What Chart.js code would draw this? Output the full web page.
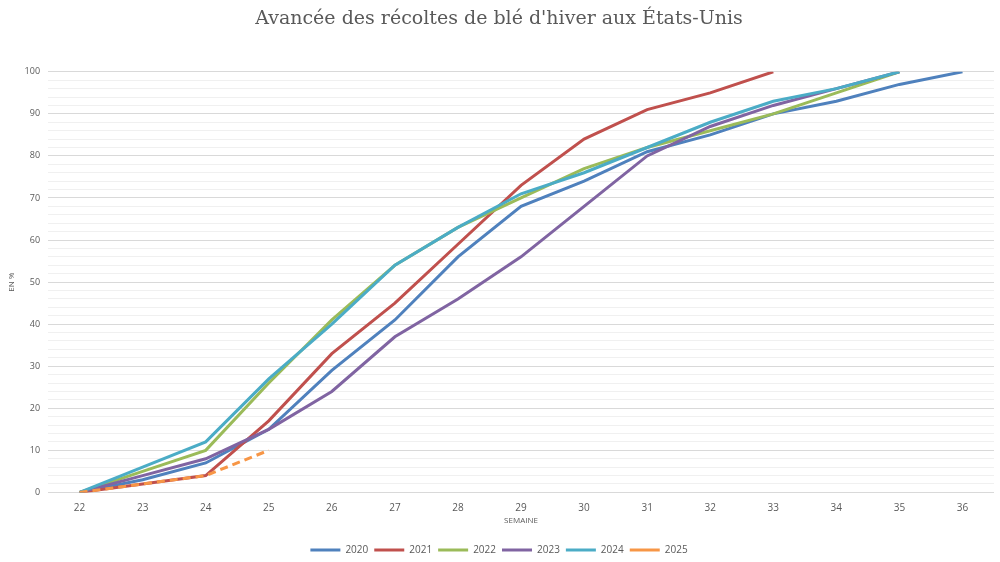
<!DOCTYPE html>
<html>
<head>
<meta charset="utf-8">
<title>Avancée des récoltes de blé d'hiver aux États-Unis</title>
<script src="https://cdn.jsdelivr.net/npm/chart.js@4.4.1/dist/chart.umd.min.js"></script>
<style>
  html, body { margin: 0; padding: 0; background: #fff; }
  #wrap { width: 1000px; height: 562px; }
</style>
</head>
<body>
<div id="wrap"><canvas id="harvestChart" width="1000" height="562"></canvas></div>
<script>
// Semaines (axe X)
const weeks = ['22', '23', '24', '25', '26', '27', '28', '29', '30', '31', '32', '33', '34', '35', '36'];

// Avancée des récoltes, en %
const y2020 = [0, 3, 7, 15, 29, 41, 56, 68, 74, 81, 85, 90, 93, 97, 100];
const y2021 = [0, 2, 4, 17, 33, 45, 59, 73, 84, 91, 95, 100];
const y2022 = [0, 5, 10, 26, 41, 54, 63, 70, 77, 82, 86, 90, 95, 100];
const y2023 = [0, 4, 8, 15, 24, 37, 46, 56, 68, 80, 87, 92, 96, 100];
const y2024 = [0, 6, 12, 27, 40, 54, 63, 71, 76, 82, 88, 93, 96, 100];
const y2025 = [0, 2, 4, 10];

const textColor = '#595959';
const fontFamily = "'Open Sans', 'Liberation Sans', sans-serif";

// Excel draws later series on top: give them a lower "order"
function line(label, data, color, index, dash) {
    return {
        label: label,
        data: data,
        borderColor: color,
        backgroundColor: color,
        borderWidth: 3,
        borderDash: dash || [],
        pointRadius: 0,
        pointHoverRadius: 0,
        tension: 0,
        fill: false,
        order: -index
    };
}

const ctx = document.getElementById('harvestChart').getContext('2d');

new Chart(ctx, {
    type: 'line',
    data: {
        labels: weeks,
        datasets: [
            line('2020', y2020, '#4F81BD', 0),
            line('2021', y2021, '#C0504D', 1),
            line('2022', y2022, '#9BBB59', 2),
            line('2023', y2023, '#8064A2', 3),
            line('2024', y2024, '#4BACC6', 4),
            line('2025', y2025, '#F79646', 5, [8, 5])
        ]
    },
    options: {
        responsive: false,
        animation: false,
        layout: {
            padding: { left: 4, right: 6, top: 0, bottom: -3 }
        },
        plugins: {
            title: {
                display: true,
                text: "Avancée des récoltes de blé d'hiver aux États-Unis",
                color: textColor,
                font: { family: "'DejaVu Serif', 'Liberation Serif', serif", size: 19, weight: 'normal' },
                padding: { top: 8, bottom: 41 }
            },
            legend: {
                position: 'bottom',
                labels: {
                    color: textColor,
                    font: { family: fontFamily, size: 10 },
                    usePointStyle: true,
                    pointStyle: 'line',
                    pointStyleWidth: 30,
                    boxHeight: 8,
                    padding: 6,
                    sort: function(a, b) { return a.datasetIndex - b.datasetIndex; }
                }
            },
            tooltip: { enabled: false }
        },
        scales: {
            x: {
                offset: true,
                grid: { display: false },
                border: { display: false },
                ticks: {
                    color: textColor,
                    font: { family: fontFamily, size: 10 },
                    padding: 2
                },
                title: {
                    display: true,
                    text: 'SEMAINE',
                    color: textColor,
                    font: { family: fontFamily, size: 8 },
                    padding: { top: 0, bottom: 13 }
                }
            },
            y: {
                min: 0,
                max: 100,
                border: { display: false },
                grid: {
                    drawTicks: false,
                    color: function(context) {
                        return context.tick && context.tick.value % 10 === 0 ? '#d9d9d9' : '#f0f0f0';
                    },
                    lineWidth: 1
                },
                ticks: {
                    stepSize: 2,
                    autoSkip: false,
                    color: textColor,
                    font: { family: fontFamily, size: 9 },
                    padding: 8,
                    callback: function(value) {
                        return value % 10 === 0 ? value : '';
                    }
                },
                title: {
                    display: true,
                    text: 'EN %',
                    color: textColor,
                    font: { family: fontFamily, size: 8 },
                    padding: { top: 3, bottom: 0 }
                }
            }
        }
    }
});
</script>
</body>
</html>
